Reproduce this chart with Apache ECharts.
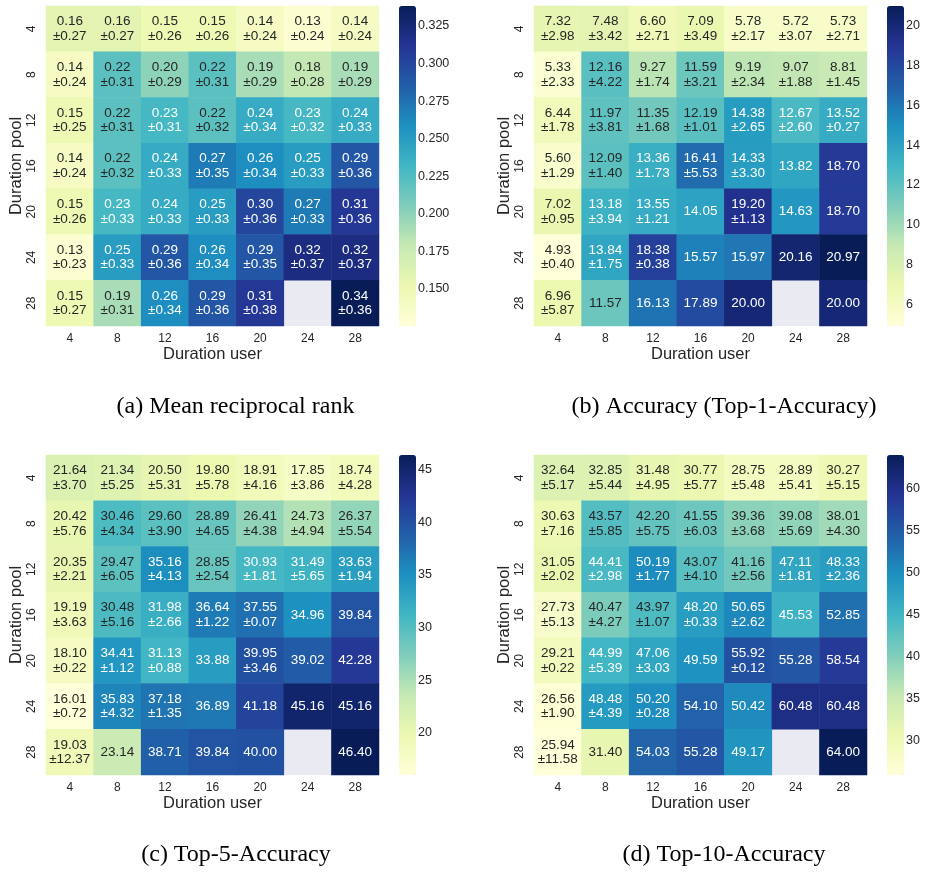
<!DOCTYPE html>
<html>
<head>
<meta charset="utf-8">
<script src="https://cdn.jsdelivr.net/npm/echarts@6/dist/echarts.min.js"></script>
<style>
html,body{margin:0;padding:0;background:#fff;}
#c{width:928px;height:872px;}
</style>
</head>
<body>
<div id="c"></div>
<script>
// Categories
const userDurations = ['4','8','12','16','20','24','28'];
const poolDurations = ['4','8','12','16','20','24','28'];

// (a) Mean reciprocal rank (rows = pool, cols = user)
const mrrMean = [
  [0.16,0.16,0.15,0.15,0.14,0.13,0.14],
  [0.14,0.22,0.20,0.22,0.19,0.18,0.19],
  [0.15,0.22,0.23,0.22,0.24,0.23,0.24],
  [0.14,0.22,0.24,0.27,0.26,0.25,0.29],
  [0.15,0.23,0.24,0.25,0.30,0.27,0.31],
  [0.13,0.25,0.29,0.26,0.29,0.32,0.32],
  [0.15,0.19,0.26,0.29,0.31,null,0.34]
];
const mrrStd = [
  [0.27,0.27,0.26,0.26,0.24,0.24,0.24],
  [0.24,0.31,0.29,0.31,0.29,0.28,0.29],
  [0.25,0.31,0.31,0.32,0.34,0.32,0.33],
  [0.24,0.32,0.33,0.35,0.34,0.33,0.36],
  [0.26,0.33,0.33,0.33,0.36,0.33,0.36],
  [0.23,0.33,0.36,0.34,0.35,0.37,0.37],
  [0.27,0.31,0.34,0.36,0.38,null,0.36]
];
const mrrRange = [0.1254, 0.3383];
const mrrTicks = [0.150,0.175,0.200,0.225,0.250,0.275,0.300,0.325];

// (b) Top-1 accuracy
const top1Mean = [
  [7.32,7.48,6.60,7.09,5.78,5.72,5.73],
  [5.33,12.16,9.27,11.59,9.19,9.07,8.81],
  [6.44,11.97,11.35,12.19,14.38,12.67,13.52],
  [5.60,12.09,13.36,16.41,14.33,13.82,18.70],
  [7.02,13.18,13.55,14.05,19.20,14.63,18.70],
  [4.93,13.84,18.38,15.57,15.97,20.16,20.97],
  [6.96,11.57,16.13,17.89,20.00,null,20.00]
];
const top1Std = [
  [2.98,3.42,2.71,3.49,2.17,3.07,2.71],
  [2.33,4.22,1.74,3.21,2.34,1.88,1.45],
  [1.78,3.81,1.68,1.01,2.65,2.60,0.27],
  [1.29,1.40,1.73,5.53,3.30,null,null],
  [0.95,3.94,1.21,null,1.13,null,null],
  [0.40,1.75,0.38,null,null,null,null],
  [5.87,null,null,null,null,null,null]
];
const top1Range = [4.93, 20.97];
const top1Ticks = [6,8,10,12,14,16,18,20];

// (c) Top-5 accuracy
const top5Mean = [
  [21.64,21.34,20.50,19.80,18.91,17.85,18.74],
  [20.42,30.46,29.60,28.89,26.41,24.73,26.37],
  [20.35,29.47,35.16,28.85,30.93,31.49,33.63],
  [19.19,30.48,31.98,36.64,37.55,34.96,39.84],
  [18.10,34.41,31.13,33.88,39.95,39.02,42.28],
  [16.01,35.83,37.18,36.89,41.18,45.16,45.16],
  [19.03,23.14,38.71,39.84,40.00,null,46.40]
];
const top5Std = [
  [3.70,5.25,5.31,5.78,4.16,3.86,4.28],
  [5.76,4.34,3.90,4.65,4.38,4.94,5.54],
  [2.21,6.05,4.13,2.54,1.81,5.65,1.94],
  [3.63,5.16,2.66,1.22,0.07,null,null],
  [0.22,1.12,0.88,null,3.46,null,null],
  [0.72,4.32,1.35,null,null,null,null],
  [12.37,null,null,null,null,null,null]
];
const top5Range = [16.01, 46.40];
const top5Ticks = [20,25,30,35,40,45];

// (d) Top-10 accuracy
const top10Mean = [
  [32.64,32.85,31.48,30.77,28.75,28.89,30.27],
  [30.63,43.57,42.20,41.55,39.36,39.08,38.01],
  [31.05,44.41,50.19,43.07,41.16,47.11,48.33],
  [27.73,40.47,43.97,48.20,50.65,45.53,52.85],
  [29.21,44.99,47.06,49.59,55.92,55.28,58.54],
  [26.56,48.48,50.20,54.10,50.42,60.48,60.48],
  [25.94,31.40,54.03,55.28,49.17,null,64.00]
];
const top10Std = [
  [5.17,5.44,4.95,5.77,5.48,5.41,5.15],
  [7.16,5.85,5.75,6.03,3.68,5.69,4.30],
  [2.02,2.98,1.77,4.10,2.56,1.81,2.36],
  [5.13,4.27,1.07,0.33,2.62,null,null],
  [0.22,5.39,3.03,null,0.12,null,null],
  [1.90,4.39,0.28,null,null,null,null],
  [11.58,null,null,null,null,null,null]
];
const top10Range = [25.94, 64.00];
const top10Ticks = [30,35,40,45,50,55,60];

const captions = ['(a) Mean reciprocal rank','(b) Accuracy (Top-1-Accuracy)','(c) Top-5-Accuracy','(d) Top-10-Accuracy'];

const YLGNBU = ['#ffffd9','#edf8b1','#c7e9b4','#7fcdbb','#41b6c4','#1d91c0','#225ea8','#253494','#081d58'];
const TXT = '#262626';
const FONT = '"Liberation Sans", Arial, sans-serif';

const panels = [
  {mean: mrrMean, std: mrrStd, range: mrrRange, ticks: mrrTicks, dec: 3, hx: 46, hy: 6, cx: 399, cap: captions[0], capX: 235.5, capY: 407},
  {mean: top1Mean, std: top1Std, range: top1Range, ticks: top1Ticks, dec: 0, hx: 534, hy: 6, cx: 887, cap: captions[1], capX: 724, capY: 407},
  {mean: top5Mean, std: top5Std, range: top5Range, ticks: top5Ticks, dec: 0, hx: 46, hy: 455, cx: 399, cap: captions[2], capX: 236, capY: 855},
  {mean: top10Mean, std: top10Std, range: top10Range, ticks: top10Ticks, dec: 0, hx: 534, hy: 455, cx: 887, cap: captions[3], capX: 724, capY: 855}
];

const HW = 333, HH = 320, CW = 17;

const grid = [], xAxis = [], yAxis = [], series = [], visualMap = [], graphic = [];

panels.forEach((p, k) => {
  grid.push({left: p.hx, top: p.hy, width: HW, height: HH, show: true, backgroundColor: '#eaeaf2', borderWidth: 0, containLabel: false});
  grid.push({left: p.cx, top: p.hy, width: CW, height: HH, show: false, containLabel: false});
  const gi = k * 2;
  xAxis.push({
    type: 'category', gridIndex: gi, data: userDurations, position: 'bottom',
    axisLine: {show: false}, axisTick: {show: false}, splitArea: {show: false}, splitLine: {show: false},
    axisLabel: {color: TXT, fontSize: 12, fontFamily: FONT, margin: 7},
    name: 'Duration user', nameLocation: 'middle', nameGap: 19,
    nameTextStyle: {color: TXT, fontSize: 16.5, fontFamily: FONT}
  });
  yAxis.push({
    type: 'category', gridIndex: gi, data: poolDurations, inverse: true,
    axisLine: {show: false}, axisTick: {show: false}, splitArea: {show: false}, splitLine: {show: false},
    axisLabel: {color: TXT, fontSize: 12, fontFamily: FONT, margin: 8, rotate: 90},
    name: 'Duration pool', nameLocation: 'middle', nameGap: 20,
    nameTextStyle: {color: TXT, fontSize: 16.5, fontFamily: FONT}
  });
  xAxis.push({type: 'value', gridIndex: gi + 1, show: false, min: 0, max: 1});
  yAxis.push({
    type: 'value', gridIndex: gi + 1, position: 'right', min: p.range[0], max: p.range[1],
    axisLine: {show: false}, splitLine: {show: false},
    axisTick: {show: true, length: 3.5, customValues: p.ticks, lineStyle: {color: TXT, width: 1}},
    axisLabel: {show: true, customValues: p.ticks, margin: 2, color: TXT, fontSize: 12.5, fontFamily: FONT,
      formatter: v => p.dec ? Number(v).toFixed(p.dec) : String(Math.round(v))}
  });

  const data = [];
  for (let i = 0; i < p.mean.length; i++) {
    for (let j = 0; j < p.mean[i].length; j++) {
      const m = p.mean[i][j];
      if (m == null) continue;
      const s = p.std[i][j];
      const norm = (m - p.range[0]) / (p.range[1] - p.range[0]);
      data.push({
        value: [j, i, m],
        label: {
          color: norm > 0.48 ? '#ffffff' : TXT,
          formatter: s == null ? m.toFixed(2) : (m.toFixed(2) + '\n±' + s.toFixed(2))
        }
      });
    }
  }
  const si = series.length;
  series.push({
    type: 'heatmap', xAxisIndex: gi, yAxisIndex: gi, data: data,
    label: {show: true, fontSize: 13.5, fontFamily: FONT, lineHeight: 14.5, align: 'center', verticalAlign: 'middle'},
    itemStyle: {borderWidth: 0},
    emphasis: {disabled: true},
    progressive: 0, animation: false
  });
  visualMap.push({
    type: 'continuous', seriesIndex: si, dimension: 2,
    min: p.range[0], max: p.range[1],
    calculable: false, realtime: false, hoverLink: false,
    orient: 'vertical', left: p.cx, top: p.hy, padding: 0,
    itemWidth: CW, itemHeight: HH, text: null, showLabel: false,
    inRange: {color: YLGNBU}
  });
  graphic.push({
    type: 'text', x: p.capX, y: p.capY,
    style: {text: p.cap, fill: '#000', font: '24px "Liberation Serif", "Times New Roman", serif', textAlign: 'center', textVerticalAlign: 'middle'}
  });
});

const chart = echarts.init(document.getElementById('c'), null, {renderer: 'canvas'});
chart.setOption({
  backgroundColor: '#ffffff',
  animation: false,
  grid, xAxis, yAxis, series, visualMap, graphic
});
</script>
</body>
</html>
